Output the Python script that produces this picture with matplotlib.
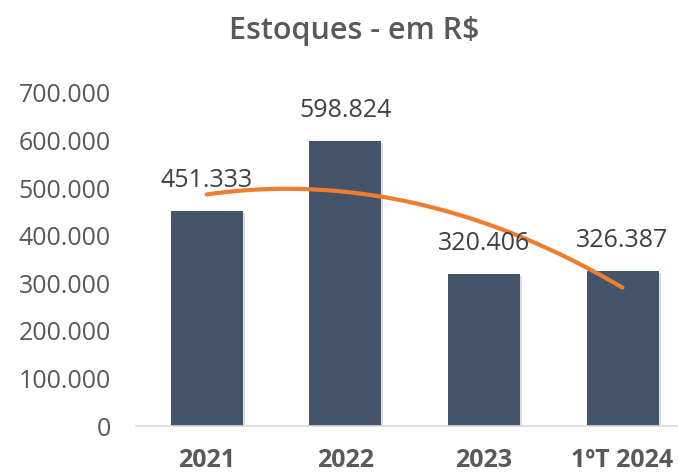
import numpy as np
import matplotlib
matplotlib.use("Agg")
import matplotlib.pyplot as plt
import matplotlib.patheffects as pe

categories = ["2021", "2022", "2023", "1ºT 2024"]
values = [451333, 598824, 320406, 326387]
yticks = [0, 100000, 200000, 300000, 400000, 500000, 600000, 700000]
ytick_labels = ["0", "100.000", "200.000", "300.000", "400.000", "500.000", "600.000", "700.000"]
value_labels = ["451.333", "598.824", "320.406", "326.387"]
title = "Estoques - em R$"

plt.rcParams['font.family'] = ['Open Sans', 'DejaVu Sans']

W, H = 678, 473
fig = plt.figure(figsize=(W/100, H/100), dpi=100)
ax = fig.add_axes([136/W, 1-426/H, 1-136/W, (426-93)/H])

x = np.arange(len(categories))
bars = ax.bar(x, values, width=0.52, color="#44546A", zorder=2)
for b in bars:
    b.set_path_effects([pe.SimplePatchShadow(offset=(1.5, -1.5), shadow_rgbFace="#999999", alpha=0.35), pe.Normal()])

# polynomial (order 2) trendline, as in the source chart
coef = np.polyfit(x, values, 2)
xs = np.linspace(x[0], x[-1], 200)
ax.plot(xs, np.polyval(coef, xs), color="#ED7D31", lw=3, solid_capstyle="round", zorder=3)

for xi, v, lab in zip(x, values, value_labels):
    ax.annotate(lab, (xi, v), xytext=(0, 22), textcoords="offset points",
                ha="center", va="center", fontsize=18, color="#404040", zorder=4)

ax.set_xlim(-0.51, 3.40)
ax.set_ylim(0, 700000)
ax.set_yticks(yticks)
ax.set_yticklabels(ytick_labels, fontsize=18, color="#595959")
ax.set_xticks(x)
ax.set_xticklabels(categories, fontsize=18, color="#595959", fontweight="bold")
ax.tick_params(axis="y", length=0, pad=18)
ax.tick_params(axis="x", length=0, pad=16)
for s in ["top", "right", "left"]:
    ax.spines[s].set_visible(False)
ax.spines["bottom"].set_color("#D9D9D9")
ax.spines["bottom"].set_linewidth(1.2)

fig.text(354.5/W, 1-39/H, title, ha="center", va="baseline", fontsize=22, fontweight="semibold", color="#595959")

fig.savefig("out.png", dpi=100)
